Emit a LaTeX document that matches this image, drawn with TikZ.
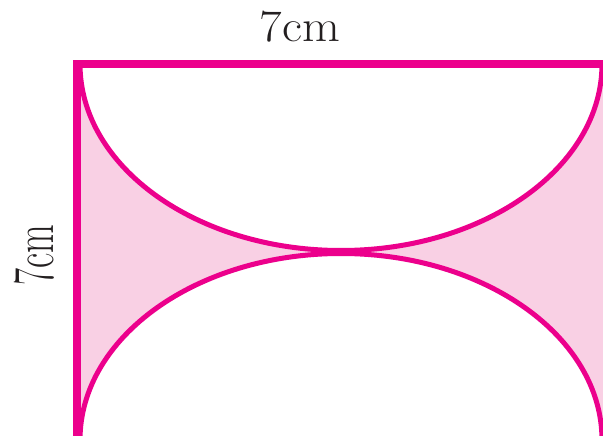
\documentclass[tikz,border=0pt]{standalone}
\begin{document}
\definecolor{mag}{RGB}{236,0,140}
\definecolor{pinkfill}{RGB}{249,208,228}
\definecolor{ink}{RGB}{35,31,32}
\begin{tikzpicture}[x=1pt,y=-1pt,
  edge/.style={draw=mag,line width=8.5pt,line join=miter},
  arcline/.style={draw=mag,line width=5pt},
  lbl/.style={text=ink,inner sep=0pt}]
\useasboundingbox (0,0) rectangle (603,436);
\coordinate (tl) at (77,64);
\coordinate (tr) at (608,64);
\coordinate (bl) at (77,440);
\coordinate (br) at (608,440);
\coordinate (ua) at (80,64);
\coordinate (la) at (80,440);
% shaded region
\fill[pinkfill] (tl) rectangle (br);
\fill[white] (ua) arc[start angle=180,end angle=0,x radius=261,y radius=186.5] -- cycle;
\fill[white] (la) arc[start angle=180,end angle=360,x radius=261,y radius=186.5] -- cycle;
% arcs
\draw[arcline] (ua) arc[start angle=180,end angle=0,x radius=261,y radius=186.5];
\draw[arcline] (la) arc[start angle=180,end angle=360,x radius=261,y radius=186.5];
% rectangle sides
\draw[edge] (bl) -- (tl) -- (tr) -- (br);
% labels
\node[lbl,font=\fontsize{49}{52}\selectfont,yscale=0.92] (top) at (300,27) {7cm};
\node[lbl,font=\fontsize{58}{62}\selectfont,rotate=90,xscale=0.64] (left) at (34,255) {7cm};
\end{tikzpicture}
\end{document}
